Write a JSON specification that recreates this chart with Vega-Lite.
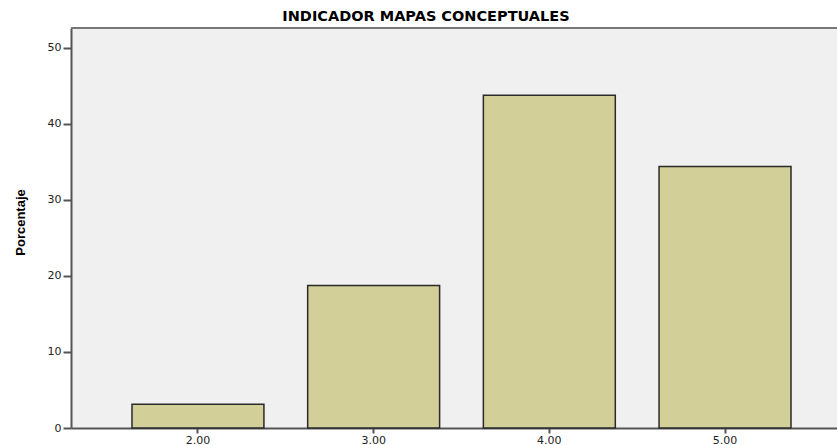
{
  "$schema": "https://vega.github.io/schema/vega-lite/v6.json",
  "width": 766,
  "height": 400,
  "autosize": {"type": "none"},
  "padding": {"left": 71, "top": 28, "right": 0, "bottom": 17},
  "background": "white",
  "title": {
    "text": "INDICADOR MAPAS CONCEPTUALES",
    "font": "DejaVu Sans",
    "fontSize": 14.5,
    "fontWeight": "bold",
    "color": "#000000",
    "anchor": "middle",
    "dx": -28,
    "offset": 3
  },
  "config": {
    "view": {"fill": "#f0f0f0", "stroke": null},
    "axis": {"grid": false}
  },
  "data": {
    "values": [
      {"indicador": "2.00", "porcentaje": 3.125},
      {"indicador": "3.00", "porcentaje": 18.75},
      {"indicador": "4.00", "porcentaje": 43.75},
      {"indicador": "5.00", "porcentaje": 34.375}
    ]
  },
  "layer": [
    {
      "mark": {"type": "rule", "color": "#777777", "strokeWidth": 2},
      "data": {"values": [{"y": 52.6}]},
      "encoding": {"y": {"field": "y", "type": "quantitative", "scale": {"domain": [0, 52.6], "nice": false}}}
    },
    {
      "mark": {"type": "bar", "fill": "#d3cf99", "stroke": "#2a2a2a", "strokeWidth": 1.5},
      "encoding": {
        "x": {
          "field": "indicador",
          "type": "ordinal",
          "sort": null,
          "scale": {"paddingInner": 0.249, "paddingOuter": 0.3045, "align": 0.57},
          "axis": {
            "title": null,
            "labelAngle": 0,
            "labelFont": "DejaVu Sans",
            "labelFontSize": 11,
            "labelColor": "#222222",
            "labelPadding": 1,
            "domainColor": "#555555",
            "domainWidth": 2,
            "tickColor": "#555555",
            "tickWidth": 2,
            "tickSize": 5
          }
        },
        "y": {
          "field": "porcentaje",
          "type": "quantitative",
          "scale": {"domain": [0, 52.6], "nice": false},
          "axis": {
            "title": "Porcentaje",
            "titleFont": "Liberation Sans",
            "titleFontSize": 13,
            "titleFontWeight": "bold",
            "titleColor": "#000000",
            "titlePadding": 20,
            "titleY": 194,
            "values": [0, 10, 20, 30, 40, 50],
            "labelFont": "DejaVu Sans",
            "labelFontSize": 11,
            "labelColor": "#222222",
            "labelPadding": 2,
            "domainColor": "#555555",
            "domainWidth": 2,
            "tickColor": "#555555",
            "tickWidth": 2,
            "tickSize": 8
          }
        }
      }
    }
  ]
}
